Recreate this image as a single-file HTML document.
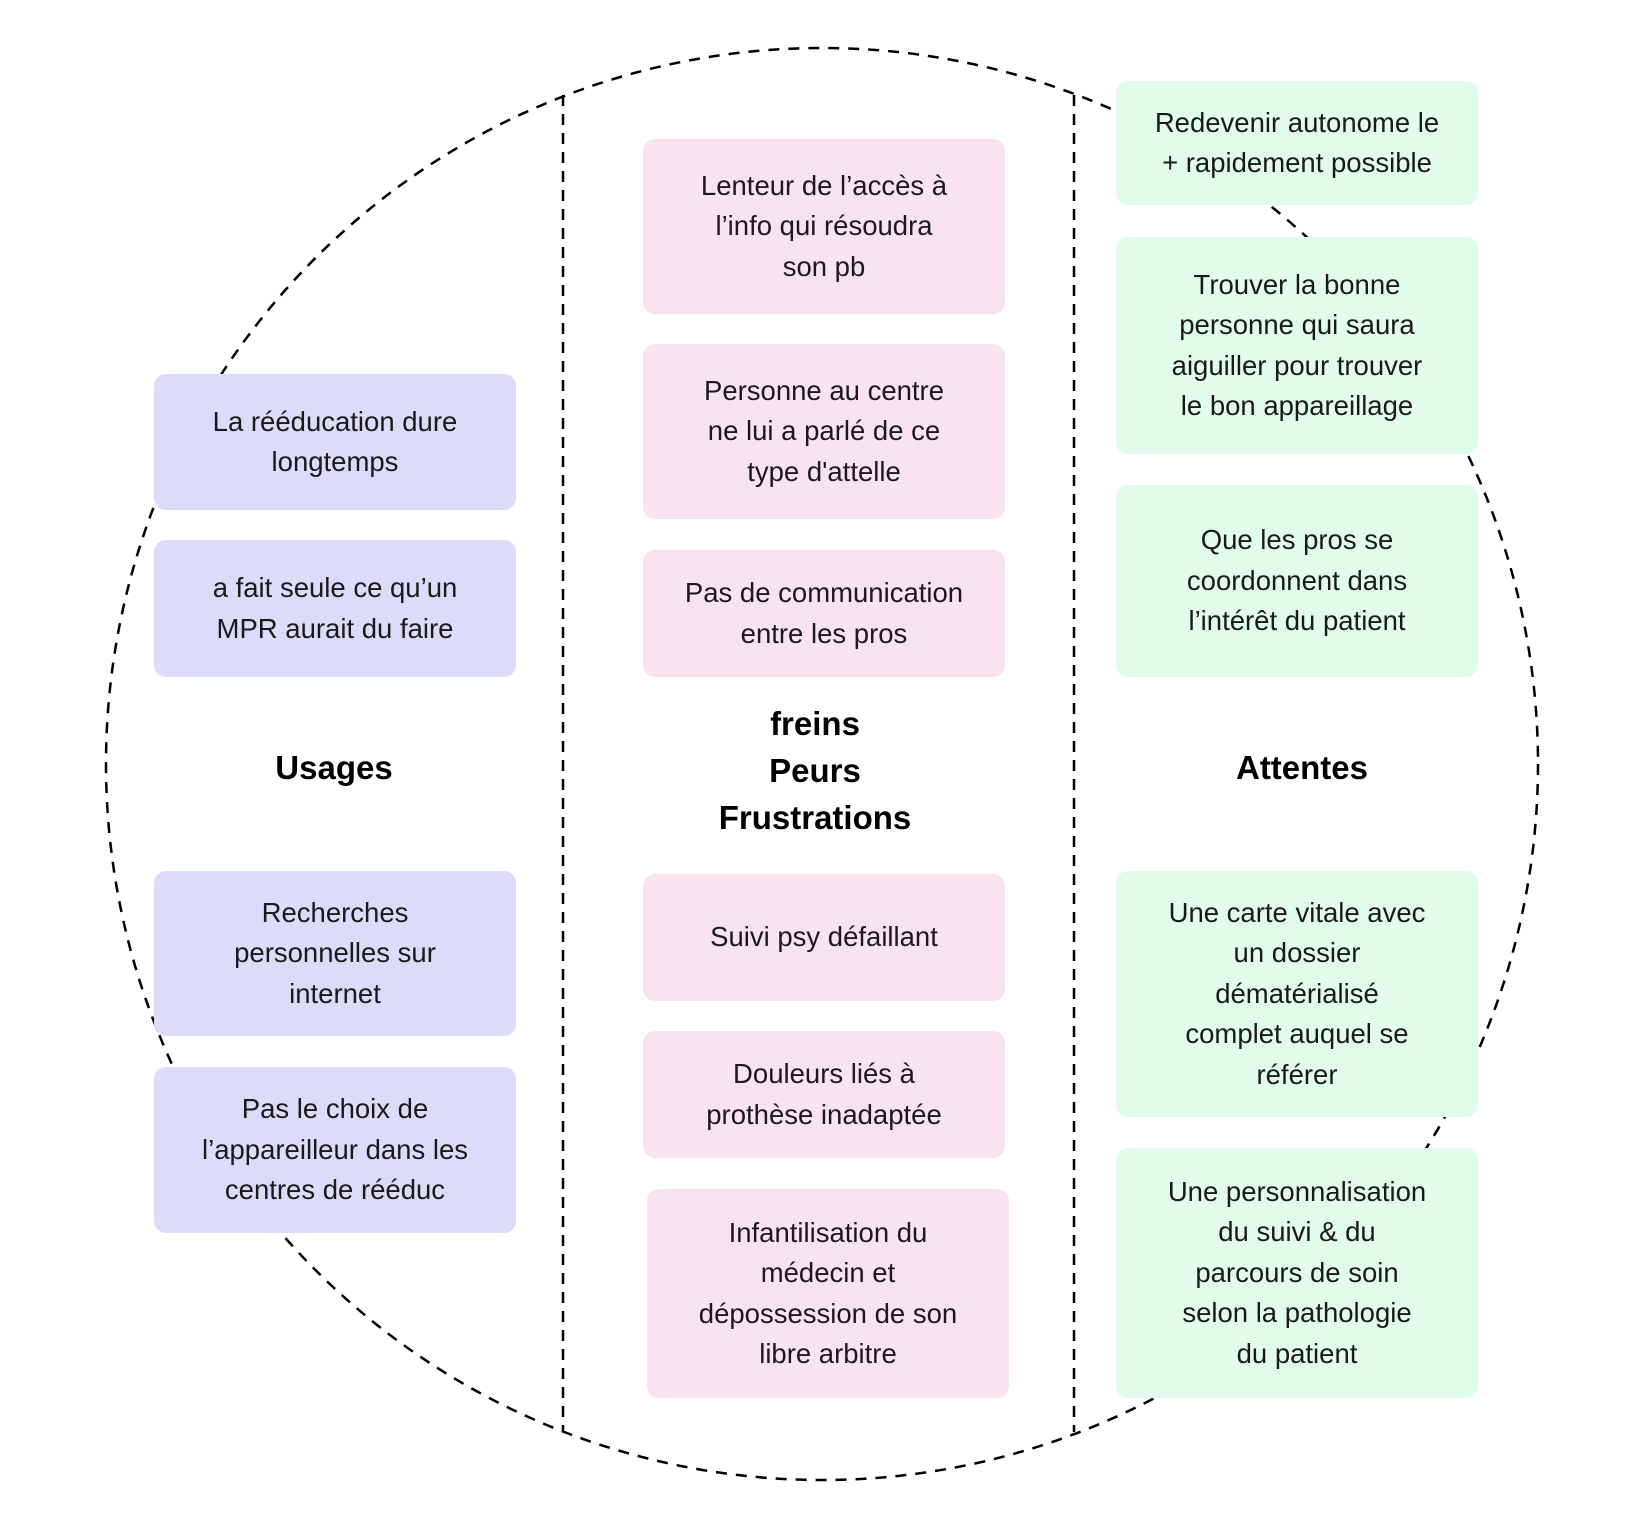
<!DOCTYPE html>
<html><head><meta charset="utf-8"><style>
html,body{margin:0;padding:0;background:#fff;}
body{width:1626px;height:1532px;position:relative;overflow:hidden;font-family:"Liberation Sans",sans-serif;}
.b{position:absolute;border-radius:12px;display:flex;align-items:center;justify-content:center;text-align:center;font-size:27.5px;line-height:40.5px;color:#1a1a1a;box-sizing:border-box;padding:0 8px;}
.u{background:#dcdcfa;left:154px;width:362px;}
.m{background:#fae3f0;left:643px;width:362px;}
.a{background:#e2fcec;left:1116px;width:362px;}
.t{position:absolute;font-weight:bold;font-size:33px;line-height:47px;text-align:center;color:#000;transform:translateX(-50%);white-space:nowrap;}
</style></head><body>
<svg width="1626" height="1532" style="position:absolute;left:0;top:0">
<circle cx="822" cy="764" r="716" fill="none" stroke="#000" stroke-width="2.5" stroke-dasharray="11 9"/>
<line x1="563" y1="95" x2="563" y2="1432" stroke="#000" stroke-width="2.5" stroke-dasharray="11 8"/>
<line x1="1074" y1="95" x2="1074" y2="1432" stroke="#000" stroke-width="2.5" stroke-dasharray="11 8"/>
</svg>
<div class="b u" style="top:374px;height:136px">La rééducation dure<br>longtemps</div>
<div class="b u" style="top:540px;height:137px">a fait seule ce qu’un<br>MPR aurait du faire</div>
<div class="b u" style="top:871px;height:165px">Recherches<br>personnelles sur<br>internet</div>
<div class="b u" style="top:1067px;height:166px">Pas le choix de<br>l’appareilleur dans les<br>centres de rééduc</div>
<div class="b m" style="top:139px;height:175px">Lenteur de l’accès à<br>l’info qui résoudra<br>son pb</div>
<div class="b m" style="top:344px;height:175px">Personne au centre<br>ne lui a parlé de ce<br>type d'attelle</div>
<div class="b m" style="top:550px;height:127px">Pas de communication<br>entre les pros</div>
<div class="b m" style="top:874px;height:127px">Suivi psy défaillant</div>
<div class="b m" style="top:1031px;height:127px">Douleurs liés à<br>prothèse inadaptée</div>
<div class="b m" style="top:1189px;height:209px;left:647px">Infantilisation du<br>médecin et<br>dépossession de son<br>libre arbitre</div>
<div class="b a" style="top:81px;height:124px">Redevenir autonome le<br>+ rapidement possible</div>
<div class="b a" style="top:237px;height:217px">Trouver la bonne<br>personne qui saura<br>aiguiller pour trouver<br>le bon appareillage</div>
<div class="b a" style="top:485px;height:192px">Que les pros se<br>coordonnent dans<br>l’intérêt du patient</div>
<div class="b a" style="top:871px;height:246px">Une carte vitale avec<br>un dossier<br>dématérialisé<br>complet auquel se<br>référer</div>
<div class="b a" style="top:1148px;height:250px">Une personnalisation<br>du suivi &amp; du<br>parcours de soin<br>selon la pathologie<br>du patient</div>
<div class="t" style="left:334px;top:744px">Usages</div>
<div class="t" style="left:815px;top:700px">freins<br>Peurs<br>Frustrations</div>
<div class="t" style="left:1302px;top:744px">Attentes</div>
</body></html>
